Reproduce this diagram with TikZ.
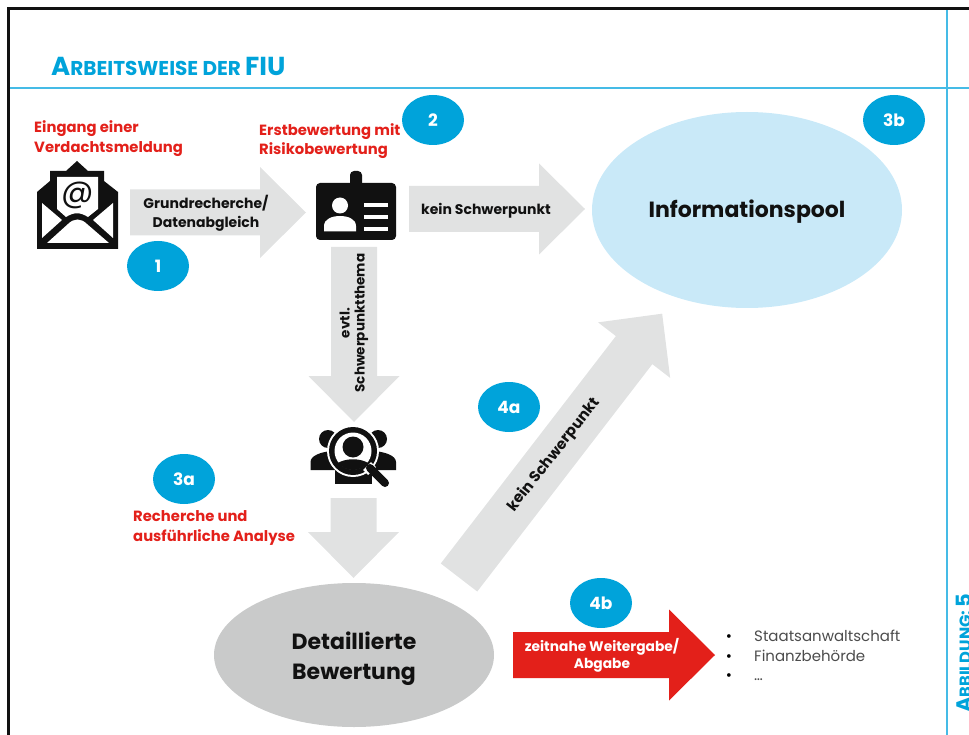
\documentclass[tikz,border=0pt]{standalone}
\usepackage{fontspec}
\setmainfont{Poppins}
\usetikzlibrary{shapes.geometric}
\definecolor{fiublue}{HTML}{00A3DA}
\definecolor{fiuline}{HTML}{45BBE6}
\definecolor{fiured}{HTML}{E3201A}
\definecolor{fiugrey}{HTML}{E1E2E2}
\definecolor{fiupool}{HTML}{C9E9F8}
\definecolor{fiuoval}{HTML}{C9CACA}
\definecolor{fiuink}{HTML}{111111}
\tikzset{
  arrowtext/.style={align=center,inner sep=0pt,text=fiuink,
    font=\fontsize{14}{19}\selectfont\bfseries},
  badge/.style={ellipse,fill=fiublue,minimum width=62pt,minimum height=50pt,inner sep=0pt,
    text=white,font=\fontsize{17}{18}\selectfont\bfseries},
  redlabel/.style={anchor=west,align=left,inner sep=0pt,text=fiured,
    font=\fontsize{14.8}{19.5}\selectfont\bfseries},
  listtext/.style={anchor=base west,inner sep=0pt,text=black!70,font=\fontsize{15}{16}\selectfont}
}
\begin{document}
\begin{tikzpicture}[x=1pt,y=-1pt]
  \useasboundingbox (0,0) rectangle (969,735);

  % frame and rules
  \draw[fiuline,line width=1.5pt] (947,9) -- (947,735);
  \draw[fiuline,line width=1.2pt] (10,88) -- (969,88);
  \draw[fiuink,line width=3pt] (8.5,735) -- (8.5,8.5) -- (969,8.5);

  \node (title) [anchor=base west,inner sep=0pt,text=fiublue,font=\bfseries] at (51,76)
    {\fontsize{26}{26}\selectfont A\fontsize{20}{26}\selectfont RBEITSWEISE DER \fontsize{26}{26}\selectfont FIU};
  \node (side) [anchor=base west,rotate=90,inner sep=0pt,text=fiublue,font=\bfseries] at (971,713)
    {\fontsize{21}{21}\selectfont A\fontsize{16.3}{21}\selectfont BBILDUNG: \fontsize{21}{21}\selectfont 5};

  % ellipses
  \node (pool) [ellipse,fill=fiupool,minimum width=310pt,minimum height=196pt,inner sep=0pt] at (747,210) {};
  \node (poolt) [inner sep=0pt,font=\fontsize{22}{26}\selectfont\bfseries,text=fiuink] at (747,212) {Informationspool};
  \node (detail) [ellipse,fill=fiuoval,minimum width=280pt,minimum height=144pt,inner sep=0pt] at (354,655) {};
  \node (detailt) [inner sep=0pt,align=center,font=\fontsize{22}{30}\selectfont\bfseries,text=fiuink] at (354,659) {Detaillierte\\Bewertung};

  % block arrows
  \foreach \x/\y/\rot/\len/\col in {130/212.5/0/176/fiugrey,409/209/0/176/fiugrey,354/247/-90/175/fiugrey,
    353.5/498/-90/80/fiugrey,459/577.5/52.4/333/fiugrey,513/655/0/202/fiured}
    \fill[\col,shift={(\x,\y)},rotate=\rot] (0,-23) -- (\len-46,-23) -- (\len-46,-45.5) -- (\len,0)
      -- (\len-46,45.5) -- (\len-46,23) -- (0,23) -- cycle;

  \node (a1) [arrowtext] at (206,213.5) {Grundrecherche/\\Datenabgleich};
  \node (a2) [arrowtext] at (486,211) {kein Schwerpunkt};
  \node (a3) [arrowtext,rotate=90,font=\fontsize{13.5}{15}\selectfont\bfseries] at (354,323) {evtl.\\Schwerpunktthema};
  \node (a5) [arrowtext,rotate=51.7,font=\fontsize{15}{15}\selectfont\bfseries] at (554,455) {kein Schwerpunkt};
  \node (a6) [arrowtext,text=white,font=\fontsize{13.8}{17.5}\selectfont\bfseries] at (602,655.5) {zeitnahe Weitergabe/\\Abgabe};

  % numbered ellipses
  \node (n1) [badge] at (158,266) {1};
  \node (n2) [badge] at (433,120) {2};
  \node (n3b) [badge] at (894,120) {3b};
  \node (n3a) [badge] at (184,479) {3a};
  \node (n4a) [badge] at (509,407) {4a};
  \node (n4b) [badge] at (601,603) {4b};

  % red labels
  \node (l1) [redlabel] at (34,138.5) {Eingang einer\\Verdachtsmeldung};
  \node (l2) [redlabel] at (259,141) {Erstbewertung mit\\Risikobewertung};
  \node (l3) [redlabel] at (133,528) {Recherche und\\ausführliche Analyse};

  % list
  \foreach \y/\name/\word in {641/la/Staatsanwaltschaft,661/lb/Finanzbehörde,680/lc/\dots}{
    \node (\name) [listtext] at (754,\y) {\word};
    \node (b\name) [anchor=base,inner sep=0pt] at (729,\y) {\fontsize{15}{15}\selectfont •};
  }

  % envelope icon
  \fill[fiuink] (37,192) -- (50,181) -- (50,171) -- (66,171) -- (77,161) -- (88,171) -- (104,171)
    -- (104,181) -- (118,192) -- (118,249) -- (37,249) -- cycle;
  \fill[white] (57,177) -- (98,177) -- (98,209) -- (88,217) .. controls (80,212) and (74,212) .. (66,217) -- (57,209) -- cycle;
  \fill[white] (42,203) -- (62,220) -- (42,238) -- cycle;
  \fill[white] (113,203) -- (93,220) -- (113,238) -- cycle;
  \fill[white] (47,243) -- (68,224) .. controls (74,218) and (81,218) .. (87,224) -- (109,243) -- cycle;
  \node (at) [inner sep=0pt,text=fiuink,font=\fontsize{32}{32}\selectfont] at (77.5,195) {@};

  % badge icon
  \fill[fiuink,rounded corners=4pt] (316,183) rectangle (396,240);
  \fill[white] (346.5,182) -- (365.5,182) arc (0:-180:9.5) -- cycle;
  \fill[fiuink,rounded corners=4pt] (350,171) rectangle (362,188);
  \fill[white] (340,205.5) circle (8);
  \fill[white] (324,231.5) -- (324,226) .. controls (324,219) and (332,216) .. (340,216)
    .. controls (348,216) and (356,219) .. (356,226) -- (356,231.5) -- cycle;
  \foreach \y in {203,215,227}
    \fill[white] (364,\y) rectangle (388,\y+4.5);

  % search icon
  \fill[fiuink] (328,439) circle (9);
  \fill[fiuink] (378,439) circle (9);
  \fill[fiuink] (310.5,470) -- (310.5,462) .. controls (310.5,456) and (320,452) .. (332,451) -- (340,470) -- cycle;
  \fill[fiuink] (396,470) -- (396,462) .. controls (396,456) and (386,452) .. (374,451) -- (366,470) -- cycle;
  \fill[fiuink] (335,468) rectangle (372,484);
  \fill[white] (353,451) circle (26);
  \fill[fiuink] (353,451) circle (24);
  \fill[white] (353,451) circle (18.5);
  \fill[fiuink] (353,447) circle (10.5);
  \begin{scope}
    \clip (353,451) circle (19);
    \fill[fiuink] (331,476) -- (331,469) .. controls (340,456) and (366,456) .. (375,469) -- (375,476) -- cycle;
  \end{scope}
  \draw[white,line width=11pt] (367,466) -- (372,471);
  \draw[fiuink,line width=8pt,line cap=round] (370,468) -- (385,483);
\end{tikzpicture}
\end{document}
